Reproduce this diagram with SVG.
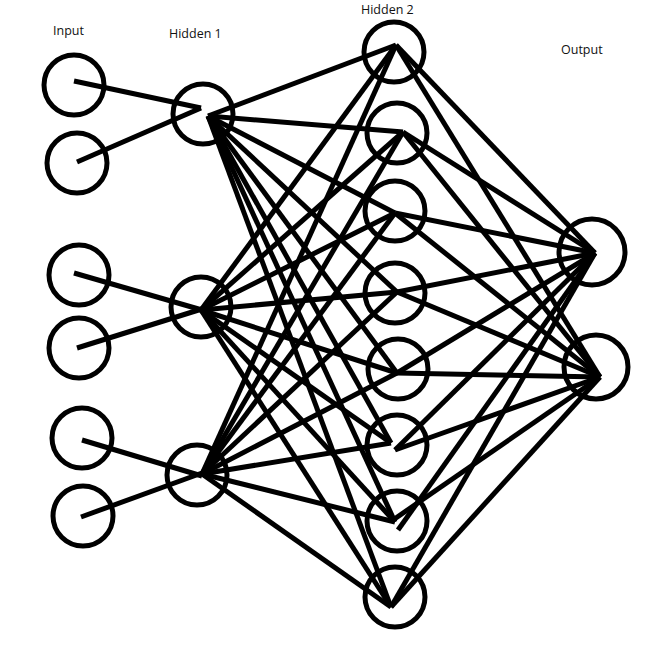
<svg xmlns="http://www.w3.org/2000/svg" width="658" height="646" viewBox="0 0 658 646">
<style>
.n{fill:none;stroke:#000;stroke-width:5}
.c line{stroke:#000;stroke-width:5;stroke-linecap:butt}
text{font-family:"Open Sans","Liberation Sans",sans-serif;font-size:12.5px;fill:#111}
</style>
<rect width="658" height="646" fill="#fff"/>
<g id="labels">
<text x="53" y="35">Input</text>
<text x="169" y="38">Hidden 1</text>
<text x="361" y="14">Hidden 2</text>
<text x="561" y="54">Output</text>
</g>
<g class="c" id="connectors">
<!-- input to hidden1 -->
<line x1="74" y1="81" x2="201" y2="108"/>
<line x1="77" y1="162" x2="201" y2="108"/>
<line x1="74" y1="273" x2="202" y2="310"/>
<line x1="77" y1="348" x2="205" y2="308"/>
<line x1="82" y1="440" x2="202" y2="476"/>
<line x1="81" y1="517" x2="202" y2="473"/>
<!-- hidden1 a to hidden2 -->
<line x1="208" y1="116" x2="396" y2="45"/>
<line x1="208" y1="116" x2="403" y2="132"/>
<line x1="208" y1="116" x2="395" y2="213"/>
<line x1="208" y1="116" x2="397" y2="292"/>
<line x1="208" y1="116" x2="397" y2="373"/>
<line x1="208" y1="116" x2="391" y2="443"/>
<line x1="208" y1="116" x2="395" y2="522"/>
<line x1="208" y1="116" x2="391" y2="607"/>
<!-- hidden1 b to hidden2 -->
<line x1="201" y1="310" x2="396" y2="45"/>
<line x1="201" y1="310" x2="403" y2="132"/>
<line x1="201" y1="310" x2="395" y2="213"/>
<line x1="201" y1="310" x2="397" y2="292"/>
<line x1="201" y1="310" x2="397" y2="373"/>
<line x1="201" y1="310" x2="391" y2="443"/>
<line x1="201" y1="310" x2="395" y2="522"/>
<line x1="201" y1="310" x2="391" y2="607"/>
<!-- hidden1 c to hidden2 -->
<line x1="202" y1="474" x2="396" y2="45"/>
<line x1="202" y1="474" x2="403" y2="132"/>
<line x1="202" y1="474" x2="395" y2="213"/>
<line x1="202" y1="474" x2="397" y2="292"/>
<line x1="202" y1="474" x2="397" y2="373"/>
<line x1="202" y1="474" x2="391" y2="443"/>
<line x1="202" y1="474" x2="395" y2="522"/>
<line x1="202" y1="474" x2="391" y2="607"/>
<!-- hidden2 to outputs -->
<line x1="396" y1="45" x2="595" y2="253"/>
<line x1="396" y1="45" x2="600" y2="377"/>
<line x1="403" y1="132" x2="595" y2="253"/>
<line x1="403" y1="132" x2="600" y2="377"/>
<line x1="395" y1="213" x2="595" y2="253"/>
<line x1="395" y1="213" x2="600" y2="377"/>
<line x1="397" y1="292" x2="595" y2="253"/>
<line x1="397" y1="292" x2="600" y2="377"/>
<line x1="397" y1="373" x2="595" y2="253"/>
<line x1="397" y1="373" x2="600" y2="377"/>
<line x1="395" y1="450" x2="595" y2="253"/>
<line x1="395" y1="450" x2="600" y2="377"/>
<line x1="398" y1="530" x2="595" y2="253"/>
<line x1="393" y1="520" x2="600" y2="377"/>
<line x1="391" y1="607" x2="595" y2="253"/>
<line x1="391" y1="607" x2="600" y2="377"/>
</g>
<g id="input1"><circle class="n" cx="74" cy="85" r="30"/></g>
<g id="input2"><circle class="n" cx="77" cy="163" r="30"/></g>
<g id="input3"><circle class="n" cx="79" cy="275" r="30"/></g>
<g id="input4"><circle class="n" cx="79" cy="348" r="30"/></g>
<g id="input5"><circle class="n" cx="82" cy="438" r="30"/></g>
<g id="input6"><circle class="n" cx="83" cy="516" r="30"/></g>
<g id="hidden1a"><circle class="n" cx="203" cy="114" r="30"/></g>
<g id="hidden1b"><circle class="n" cx="201" cy="307" r="30"/></g>
<g id="hidden1c"><circle class="n" cx="197" cy="475" r="30"/></g>
<g id="hidden2a"><circle class="n" cx="394" cy="52" r="30"/></g>
<g id="hidden2b"><circle class="n" cx="397" cy="133" r="30"/></g>
<g id="hidden2c"><circle class="n" cx="395" cy="211" r="30"/></g>
<g id="hidden2d"><circle class="n" cx="395" cy="293" r="30"/></g>
<g id="hidden2e"><circle class="n" cx="398" cy="369" r="30"/></g>
<g id="hidden2f"><circle class="n" cx="397" cy="445" r="30"/></g>
<g id="hidden2g"><circle class="n" cx="397" cy="521" r="30"/></g>
<g id="hidden2h"><circle class="n" cx="395" cy="597" r="30"/></g>
<g id="output1"><circle class="n" cx="592" cy="252" r="33"/></g>
<g id="output2"><circle class="n" cx="596" cy="367" r="32"/></g>
</svg>
